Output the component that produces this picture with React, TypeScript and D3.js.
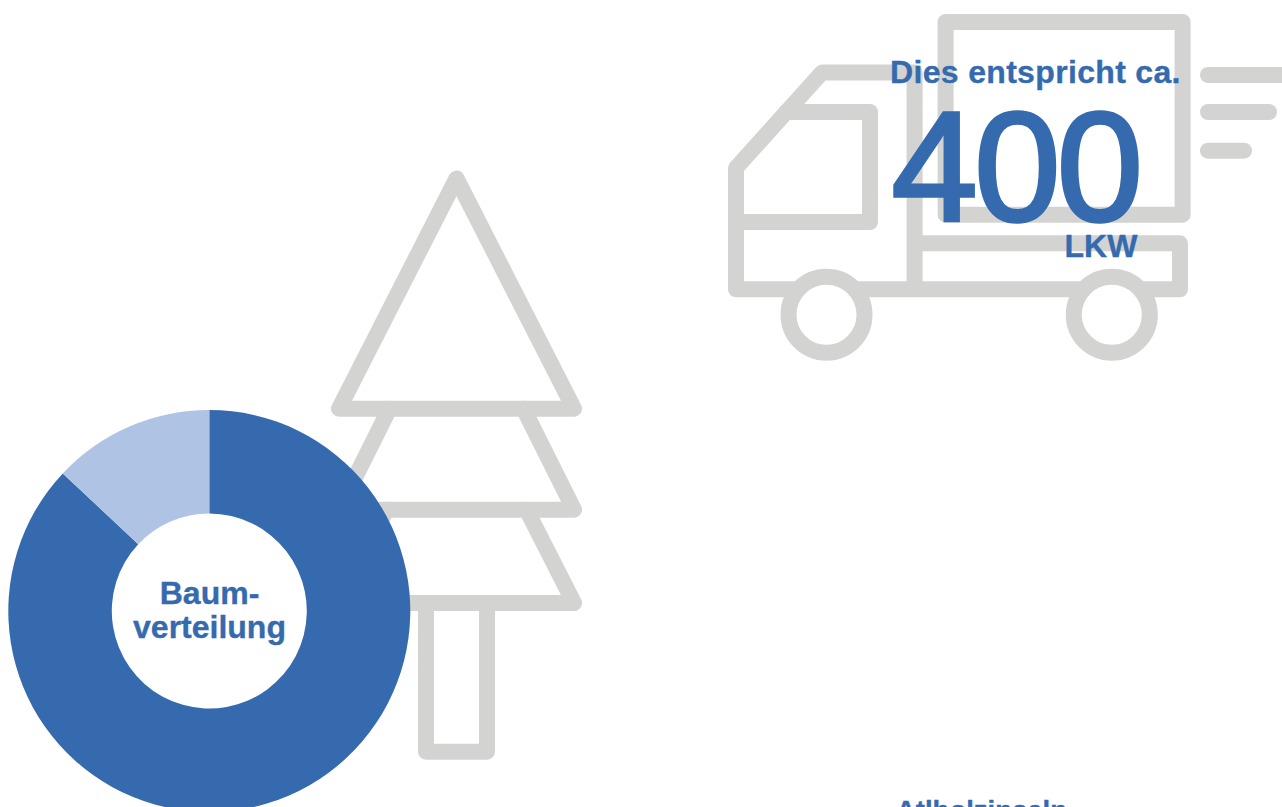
import React from "react";
import * as d3 from "d3";

// Tree species share shown in the ring
const speciesNames = ["Nadelholz", "Laubholz"];
const speciesShares = [87, 13];
const ringColours = ["#356bae", "#afc4e4"];

const ringLines = ["Baum-", "verteilung"];
const truckCaption = "Dies entspricht ca.";
const truckCount = 400;
const truckUnit = "LKW";
const nextHeading = "Atlholzinseln";

const BLUE = "#356bae";
const GREY = "#d3d3d2";
const ICON_STROKE = 16;
const FONT = "'Liberation Sans', Arial, Helvetica, sans-serif";

function Ring() {
  const slices = d3.pie<number>().sort(null)(speciesShares);
  const arc = d3.arc<d3.PieArcDatum<number>>().innerRadius(97.5).outerRadius(201);
  return (
    <g transform="translate(209.3,611)">
      {slices.map((s, i) => (
        <path key={speciesNames[i]} d={arc(s) ?? ""} fill={ringColours[i]} />
      ))}
    </g>
  );
}

function TreeIcon() {
  return (
    <g fill="none" stroke={GREY} strokeWidth={ICON_STROKE} strokeLinejoin="round" strokeLinecap="round">
      <path d="M456.5,178.5 L574,408.7 H339 Z" />
      <path d="M523.5,408.7 L574,509.7 H339 L389.5,408.7" />
      <path d="M526.5,509.7 L574,603 H339 L386.5,509.7" />
      <path d="M426,603 V751.7 H487 V603" />
    </g>
  );
}

function TruckIcon() {
  const wheelCentres = [826.5, 1111.8];
  return (
    <g fill="none" stroke={GREY} strokeWidth={ICON_STROKE} strokeLinejoin="round" strokeLinecap="round">
      <rect x={945.6} y={22} width={237} height={192.7} />
      <path d="M914.6,289.3 V72.5 H822 L736,168 V289.3 H1180 V243.3 H914.6" />
      <path d="M786.4,112 H870 V222 H736" />
      {wheelCentres.map((cx) => (
        <circle key={cx} cx={cx} cy={314.7} r={38} fill="#fff" />
      ))}
      <path d="M1208,75 H1300" />
      <path d="M1208,112 H1269" />
      <path d="M1208,150.7 H1244" />
    </g>
  );
}

export default function App() {
  return (
    <svg
      width={1282}
      height={807}
      viewBox="0 0 1282 807"
      style={{ position: "absolute", left: 0, top: 0, background: "#fff", display: "block" }}
    >
      <TreeIcon />
      <TruckIcon />
      <Ring />
      <g fill={BLUE} stroke={BLUE} strokeWidth={0.35} fontFamily={FONT} fontWeight={700} fontSize={32}>
        <text x={209.5} y={603.5} textAnchor="middle">{ringLines[0]}</text>
        <text x={209.5} y={637.5} textAnchor="middle">{ringLines[1]}</text>
        <text x={890} y={82.5} letterSpacing={0.33}>{truckCaption}</text>
        <text x={1101} y={257} textAnchor="middle">{truckUnit}</text>
        <text x={981.5} y={819.5} textAnchor="middle" fontSize={27.5}>{nextHeading}</text>
      </g>
      <text
        x={1015.5}
        y={220}
        textAnchor="middle"
        fill={BLUE}
        stroke={BLUE}
        strokeWidth={3.5}
        fontFamily={FONT}
        fontSize={155}
        letterSpacing={-3.5}
      >
        {truckCount}
      </text>
    </svg>
  );
}
